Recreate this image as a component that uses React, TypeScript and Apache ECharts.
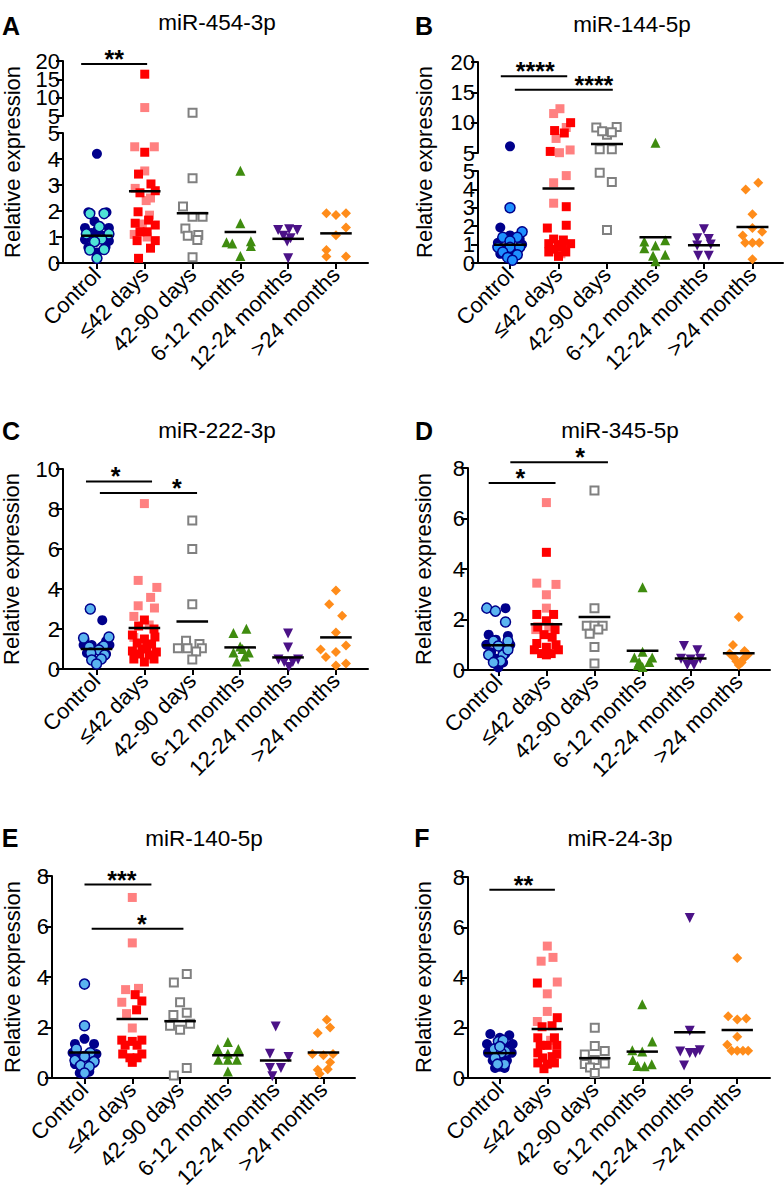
import React, { useEffect, useRef } from 'react';
import * as echarts from 'echarts';

const categories = ['Control', '≤42 days', '42-90 days', '6-12 months', '12-24 months', '>24 months'];

// Points: [jitter offset within category, relative expression]
// Panel A — miR-454-3p
const A_controlDark = [[0, 4.2], [-0.18, 1.95], [0.2, 1.95], [-0.05, 1.6], [-0.25, 1.35], [0.25, 1.35], [-0.12, 1.15], [0.12, 1.05], [-0.25, 0.9], [0.25, 0.85], [-0.18, 0.6], [0.18, 0.62], [0, 0.4], [0, 1.25]];
const A_controlLight = [[-0.15, 1.9], [0.15, 1.9], [-0.22, 1.12], [0.25, 1.12], [0.1, 0.92], [-0.05, 0.82], [-0.15, 0.5], [0.15, 0.52], [0, 0.18], [0.05, 1.4]];
const A_pink = [[0, 7.3], [-0.21, 4.47], [0.2, 4.47], [0, 3.54], [-0.2, 2.87], [0.03, 2.4], [0.12, 2.5], [0.1, 1.84], [-0.05, 1.5], [-0.22, 1.1], [0.05, 1.0]];
const A_red = [[0, 16.4], [0, 4.26], [-0.13, 3.42], [0.13, 3.04], [-0.1, 2.7], [0.22, 2.78], [-0.14, 1.97], [0.08, 1.65], [-0.2, 1.53], [0.22, 1.46], [-0.1, 1.2], [0.05, 1.2], [-0.16, 0.86], [0.22, 0.86], [0.12, 0.57], [-0.13, 0.18]];
const A_gray = [[0, 5.9], [0, 3.26], [-0.2, 2.17], [0, 1.78], [0.21, 1.78], [-0.15, 1.33], [-0.1, 1.05], [0.12, 1.08], [0.1, 0.88], [0, 0.22]];
const A_green = [[0, 3.55], [0, 1.53], [-0.29, 0.8], [-0.17, 0.75], [0.22, 0.84], [0.22, 0.65], [0, 0.27]];
const A_purple = [[-0.21, 1.27], [0.02, 1.3], [0.19, 1.27], [-0.1, 1.05], [0.05, 0.95], [-0.02, 0.83], [0, 0.18]];
const A_orange = [[-0.2, 1.91], [0, 1.85], [0.21, 1.91], [0.21, 1.37], [0, 1.07], [-0.2, 0.5], [-0.2, 0.25], [0.21, 0.25]];
const A_means = [1.05, 2.76, 1.91, 1.19, 0.93, 1.14];
const A_sig = [{ from: -0.33, to: 1.05, y: 19.2, at: 0.36, stars: '**' }];

// Panel B — miR-144-5p
const B_controlDark = [[0, 6.1], [-0.2, 1.93], [0, 1.5], [-0.25, 1.1], [0.25, 1.0], [-0.1, 0.8], [0.1, 0.6], [0, 0.3], [0.2, 1.3], [-0.2, 0.5]];
const B_controlLight = [[0, 3.0], [0.25, 1.7], [-0.15, 1.4], [0.15, 1.4], [0, 1.2], [-0.25, 0.85], [0, 0.85], [0.2, 0.85], [-0.15, 0.6], [0.15, 0.45], [-0.05, 0.3], [0.05, 0.15]];
const B_pink = [[0.03, 12.3], [-0.1, 11.5], [0.16, 9.2], [-0.05, 7.4], [0.02, 5.05], [0.24, 5.5], [0.16, 4.75], [-0.1, 4.36], [-0.1, 3.25], [0.05, 0.5]];
const B_red = [[0.25, 10.0], [-0.08, 8.7], [0.12, 8.3], [-0.17, 5.26], [0.16, 3.06], [0.16, 2.05], [-0.23, 1.9], [-0.1, 1.3], [0.1, 1.25], [-0.2, 1.05], [0, 1.0], [0.25, 1.05], [-0.1, 0.75], [0.08, 0.85], [0.15, 0.6], [-0.2, 0.6], [0, 0.36]];
const B_gray = [[-0.22, 9.2], [0.2, 9.3], [0, 8.0], [0.1, 8.4], [-0.1, 8.6], [-0.15, 5.6], [0.1, 5.6], [-0.15, 4.9], [0.1, 4.4], [0, 1.8]];
const B_green = [[0, 6.7], [-0.23, 1.17], [0, 0.95], [0.2, 1.23], [-0.23, 0.8], [-0.05, 0.4], [0.2, 0.45], [0, 0.1]];
const B_purple = [[0, 1.84], [-0.14, 1.35], [0.1, 1.3], [-0.14, 0.95], [0.14, 1.0], [-0.12, 0.4], [0.1, 0.4]];
const B_orange = [[-0.14, 4.0], [0.12, 4.36], [0, 2.65], [0, 1.9], [0.2, 1.7], [-0.2, 1.5], [-0.15, 1.1], [0, 1.1], [0.14, 1.1], [0, 0.2]];
const B_means = [0.99, 4.05, 6.5, 1.4, 0.97, 1.96];
const B_sig = [
  { from: -0.19, to: 1.18, y: 17.66, at: 0.52, stars: '****' },
  { from: 0.1, to: 2.12, y: 15.44, at: 1.73, stars: '****' },
];

// Panel C — miR-222-3p
const C_controlDark = [[0.12, 2.44], [-0.25, 1.45], [0.2, 1.4], [-0.1, 1.2], [0.1, 1.1], [0, 0.95], [-0.2, 0.8], [0.2, 0.75], [-0.1, 0.55], [0.1, 0.5], [0, 0.35], [-0.27, 1.2], [0.27, 1.2]];
const C_controlLight = [[-0.13, 3.0], [-0.27, 1.55], [0.26, 1.6], [-0.15, 1.1], [0.15, 1.15], [0.05, 0.95], [-0.12, 0.8], [0.17, 0.7], [-0.1, 0.45], [0.1, 0.5], [0, 0.25]];
const C_pink = [[0, 8.27], [-0.13, 4.43], [0.26, 4.08], [0.13, 3.58], [-0.13, 3.16], [0.21, 3.05], [-0.22, 2.63], [-0.22, 1.58], [0.1, 2.2]];
const C_red = [[0, 2.45], [-0.12, 2.15], [0.2, 2.0], [-0.25, 1.7], [0.22, 1.6], [0, 1.5], [-0.15, 1.3], [0.15, 1.25], [-0.25, 0.9], [0.25, 0.85], [-0.1, 0.75], [0.1, 0.7], [-0.22, 0.5], [0.2, 0.5], [0, 0.35], [-0.05, 1.0], [0.05, 1.1]];
const C_gray = [[0, 7.43], [0, 6.0], [0, 3.24], [-0.13, 1.41], [0.15, 1.25], [-0.3, 1.04], [-0.1, 1.04], [0.2, 1.04], [0.08, 0.88], [0, 0.48]];
const C_green = [[-0.14, 1.8], [0.13, 2.01], [0, 1.13], [-0.14, 0.83], [0.18, 0.83], [0.05, 1.0], [-0.07, 0.38], [0.1, 0.62]];
const C_purple = [[0, 1.77], [0, 1.08], [-0.2, 0.48], [-0.08, 0.35], [0.1, 0.35], [0.21, 0.48], [0.02, 0.1]];
const C_orange = [[0, 3.93], [-0.14, 3.24], [0.13, 2.66], [0, 1.83], [0.21, 1.17], [-0.32, 0.97], [0, 0.85], [-0.21, 0.6], [0.21, 0.27], [0, 0.17]];
const C_means = [1.0, 2.05, 2.38, 1.08, 0.58, 1.58];
const C_sig = [
  { from: -0.22, to: 1.16, y: 9.38, at: 0.4, stars: '*' },
  { from: 0.07, to: 2.1, y: 8.8, at: 1.68, stars: '*' },
];

// Panel D — miR-345-5p
const D_controlDark = [[0.15, 2.45], [-0.2, 1.4], [0.2, 1.35], [-0.05, 1.2], [-0.25, 1.0], [0.25, 1.0], [0.05, 0.9], [-0.15, 0.7], [0.15, 0.65], [-0.05, 0.45], [0.1, 0.3], [0, 0.1]];
const D_controlLight = [[-0.24, 2.45], [-0.06, 2.33], [0.15, 1.9], [0.2, 1.15], [-0.1, 1.15], [-0.2, 0.6], [0.1, 0.6], [0.05, 0.35], [-0.1, 0.3], [0, 0.95], [0.2, 0.8]];
const D_pink = [[0, 6.63], [-0.2, 3.44], [0.2, 3.39], [0, 2.98], [0, 2.45], [-0.22, 1.6], [0.05, 1.7]];
const D_red = [[0, 4.66], [-0.2, 2.2], [0.15, 2.2], [0, 1.95], [-0.18, 1.7], [0.18, 1.6], [-0.05, 1.4], [0.12, 1.3], [-0.2, 1.05], [0.2, 1.0], [-0.25, 0.8], [0.25, 0.8], [-0.1, 0.65], [0.1, 0.65], [0, 0.6], [0, 0.9]];
const D_gray = [[0, 7.11], [0, 2.45], [-0.16, 1.75], [0, 1.75], [0.17, 1.75], [-0.1, 1.44], [0.08, 1.6], [0, 0.91], [0, 0.26]];
const D_green = [[0, 3.28], [0, 0.72], [-0.17, 0.5], [0.2, 0.5], [-0.07, 0.32], [0.14, 0.32], [0, 0.12], [-0.1, 0.2]];
const D_purple = [[-0.14, 0.95], [0.14, 0.78], [-0.2, 0.45], [0, 0.42], [0.2, 0.45], [-0.07, 0.2], [0.07, 0.2]];
const D_orange = [[0, 2.1], [-0.12, 0.99], [0.12, 0.75], [-0.19, 0.65], [0.19, 0.6], [-0.1, 0.5], [0.1, 0.45], [-0.05, 0.35], [0.06, 0.3], [0, 0.2]];
const D_means = [0.98, 1.81, 2.1, 0.76, 0.46, 0.66];
const D_sig = [
  { from: 0.25, to: 2.28, y: 8.23, at: 1.7, stars: '*' },
  { from: -0.2, to: 1.19, y: 7.41, at: 0.46, stars: '*' },
];

// Panel E — miR-140-5p
const E_controlDark = [[0, 1.55], [-0.2, 1.35], [0.2, 1.35], [-0.25, 1.0], [0.25, 0.95], [-0.1, 0.85], [0.1, 0.8], [-0.2, 0.55], [0.2, 0.6], [0, 0.35], [-0.1, 0.2], [0.1, 0.25]];
const E_controlLight = [[0, 3.72], [0, 2.07], [-0.17, 1.15], [0.12, 1.0], [0, 0.85], [-0.2, 0.7], [0.2, 0.65], [-0.08, 0.5], [0.1, 0.45], [0, 0.2]];
const E_pink = [[0, 7.15], [0, 5.35], [-0.14, 3.5], [0.13, 3.55], [-0.22, 3.0], [-0.12, 2.55], [0, 1.98]];
const E_red = [[0.06, 3.3], [0.2, 3.05], [0.09, 2.7], [-0.22, 1.5], [0.2, 1.5], [0, 1.45], [-0.15, 1.3], [0.1, 1.3], [-0.2, 0.95], [0.2, 0.95], [-0.05, 0.8], [0.1, 0.8], [0, 0.62]];
const E_gray = [[0.14, 4.12], [-0.13, 3.78], [0, 3.0], [-0.14, 2.5], [0.14, 2.58], [-0.21, 2.07], [0.21, 2.15], [0, 1.91], [0.14, 0.4], [-0.13, 0.1]];
const E_green = [[0, 1.43], [-0.21, 1.15], [0.22, 1.15], [0, 0.96], [-0.2, 0.72], [0, 0.72], [0.19, 0.72], [0, 0.26]];
const E_purple = [[0, 2.04], [-0.12, 0.96], [0.27, 0.83], [-0.12, 0.4], [0.11, 0.4], [-0.07, 0.07]];
const E_orange = [[0.07, 2.31], [0.14, 2.0], [-0.12, 1.78], [-0.23, 0.95], [0, 0.9], [0.2, 0.95], [0.14, 0.62], [-0.12, 0.33], [0.09, 0.35], [-0.08, 0.17]];
const E_means = [1.01, 2.34, 2.25, 0.9, 0.69, 1.01];
const E_sig = [
  { from: 0, to: 1.4, y: 7.66, at: 0.78, stars: '***' },
  { from: 0.15, to: 2.07, y: 5.91, at: 1.2, stars: '*' },
];

// Panel F — miR-24-3p
const F_controlDark = [[-0.2, 1.75], [0.2, 1.7], [0, 1.6], [-0.27, 1.35], [0.27, 1.35], [-0.1, 1.2], [0.1, 1.25], [-0.25, 1.0], [0.25, 1.0], [-0.15, 0.7], [0.15, 0.7], [0, 0.45], [-0.1, 0.4], [0.1, 0.4], [0, 0.8]];
const F_controlLight = [[-0.03, 1.45], [0.07, 1.5], [-0.12, 1.15], [0.12, 1.05], [0.03, 1.0], [-0.1, 0.8], [0.1, 0.55], [-0.05, 0.55], [0, 1.25]];
const F_pink = [[0, 5.25], [-0.13, 4.65], [0.12, 4.8], [0.21, 3.82], [0, 3.35], [0, 2.65], [-0.21, 2.25], [0.07, 1.5]];
const F_red = [[-0.21, 3.78], [0.21, 2.4], [-0.11, 2.04], [0.1, 2.08], [-0.2, 1.6], [0.15, 1.6], [-0.15, 1.3], [0, 1.3], [0.2, 1.3], [-0.2, 1.0], [0.2, 0.95], [-0.1, 0.8], [0.1, 0.85], [-0.2, 0.6], [0.15, 0.6], [0, 0.55], [-0.07, 0.37]];
const F_gray = [[0, 2.0], [0, 1.27], [0.21, 1.07], [-0.21, 0.94], [0, 0.72], [-0.21, 0.56], [0.21, 0.58], [-0.1, 0.42], [0, 0.2]];
const F_green = [[0, 2.94], [0.21, 1.45], [-0.21, 1.1], [0, 1.05], [-0.2, 0.72], [-0.1, 0.48], [0.05, 0.47], [0.2, 0.55]];
const F_purple = [[0, 6.37], [0, 1.88], [-0.2, 1.05], [0, 1.0], [0.12, 1.0], [0.21, 1.1], [-0.12, 0.5]];
const F_orange = [[0, 4.78], [-0.19, 2.46], [0, 2.33], [0.19, 2.37], [0, 1.64], [-0.21, 1.32], [-0.12, 1.08], [0, 1.08], [0.12, 1.08], [0.23, 1.08]];
const F_means = [0.99, 1.95, 0.79, 1.05, 1.82, 1.91];
const F_sig = [{ from: -0.22, to: 1.16, y: 7.49, at: 0.5, stars: '**' }];

const FONT = '"Liberation Sans", Arial, Helvetica, sans-serif';
const NAVY = '#00008b';

const groupStyles = [
  { cat: 0, symbol: 'circle', size: 10, fill: NAVY, stroke: NAVY, lw: 0 },
  { cat: 0, symbol: 'circle', size: 10, fill: 'LIGHT', stroke: NAVY, lw: 1.5 },
  { cat: 1, symbol: 'rect', size: 9, fill: '#ff8080', stroke: '#ff8080', lw: 0 },
  { cat: 1, symbol: 'rect', size: 9, fill: '#ff0000', stroke: '#ff0000', lw: 0 },
  { cat: 2, symbol: 'rect', size: 8, fill: '#ffffff', stroke: '#808080', lw: 2 },
  { cat: 3, symbol: 'triangle', size: 10, fill: '#3f8c0f', stroke: '#3f8c0f', lw: 0 },
  { cat: 4, symbol: 'triangle', size: 10, rotate: 180, fill: '#4b1287', stroke: '#4b1287', lw: 0 },
  { cat: 5, symbol: 'diamond', size: 10, fill: '#ff8c1a', stroke: '#ff8c1a', lw: 0 },
];

const panels = [
  {
    letter: 'A', title: 'miR-454-3p', light: '#4fe3d6',
    groups: [A_controlDark, A_controlLight, A_pink, A_red, A_gray, A_green, A_purple, A_orange],
    means: A_means, sig: A_sig,
    left: 63, width: 305, xMin: -0.71, xMax: 5.67,
    lower: { top: 133, height: 130, min: 0, max: 5, interval: 1 },
    upper: { top: 61, height: 55, min: 5, max: 20, interval: 5 },
    titlePos: [217, 22], letterPos: [11, 26], yNamePos: [12, 162],
  },
  {
    letter: 'B', title: 'miR-144-5p', light: '#1e90ff',
    groups: [B_controlDark, B_controlLight, B_pink, B_red, B_gray, B_green, B_purple, B_orange],
    means: B_means, sig: B_sig,
    left: 478, width: 305, xMin: -0.66, xMax: 5.63,
    lower: { top: 171, height: 92, min: 0, max: 5, interval: 1 },
    upper: { top: 62, height: 91, min: 5, max: 20, interval: 5 },
    titlePos: [632, 24], letterPos: [424, 26], yNamePos: [424, 162],
  },
  {
    letter: 'C', title: 'miR-222-3p', light: '#5ab4f0',
    groups: [C_controlDark, C_controlLight, C_pink, C_red, C_gray, C_green, C_purple, C_orange],
    means: C_means, sig: C_sig,
    left: 63, width: 305, xMin: -0.7, xMax: 5.67,
    lower: { top: 469, height: 200, min: 0, max: 10, interval: 2 },
    titlePos: [217, 430], letterPos: [11, 431], yNamePos: [11, 569],
  },
  {
    letter: 'D', title: 'miR-345-5p', light: '#5ab4f0',
    groups: [D_controlDark, D_controlLight, D_pink, D_red, D_gray, D_green, D_purple, D_orange],
    means: D_means, sig: D_sig,
    left: 468, width: 302, xMin: -0.63, xMax: 5.65,
    lower: { top: 468, height: 202, min: 0, max: 8, interval: 2 },
    titlePos: [620, 430], letterPos: [424, 431], yNamePos: [423, 569],
  },
  {
    letter: 'E', title: 'miR-140-5p', light: '#5ab4f0',
    groups: [E_controlDark, E_controlLight, E_pink, E_red, E_gray, E_green, E_purple, E_orange],
    means: E_means, sig: E_sig,
    left: 52, width: 303, xMin: -0.68, xMax: 5.66,
    lower: { top: 876, height: 202, min: 0, max: 8, interval: 2 },
    titlePos: [204, 838], letterPos: [10, 838], yNamePos: [12, 977],
  },
  {
    letter: 'F', title: 'miR-24-3p', light: '#5ab4f0',
    groups: [F_controlDark, F_controlLight, F_pink, F_red, F_gray, F_green, F_purple, F_orange],
    means: F_means, sig: F_sig,
    left: 468, width: 302, xMin: -0.67, xMax: 5.69,
    lower: { top: 877, height: 201, min: 0, max: 8, interval: 2 },
    titlePos: [620, 838], letterPos: [422, 838], yNamePos: [423, 977],
  },
];

const yLabelStyle = { fontSize: 22, fontFamily: FONT, color: '#000', margin: 3 };

function buildOption() {
  const grid: any[] = [];
  const xAxis: any[] = [];
  const yAxis: any[] = [];
  const series: any[] = [];
  const graphic: any[] = [];
  const catTicks = categories.map((_, i) => i);

  panels.forEach((p: any) => {
    graphic.push({
      type: 'text', x: p.titlePos[0], y: p.titlePos[1], silent: true,
      style: { text: p.title, font: `22.5px ${FONT}`, fill: '#000', align: 'center', verticalAlign: 'middle' },
    });
    graphic.push({
      type: 'text', x: p.letterPos[0], y: p.letterPos[1], silent: true,
      style: { text: p.letter, font: `bold 25px ${FONT}`, fill: '#000', align: 'center', verticalAlign: 'middle' },
    });
    graphic.push({
      type: 'text', x: p.yNamePos[0], y: p.yNamePos[1], rotation: Math.PI / 2, silent: true,
      style: { text: 'Relative expression', font: `22px ${FONT}`, fill: '#000', align: 'center', verticalAlign: 'middle' },
    });

    const broken = !!p.upper;
    const segs = broken ? [p.lower, p.upper] : [p.lower];
    segs.forEach((s: any, k: number) => {
      const gi = grid.length;
      grid.push({ left: p.left, top: s.top, width: p.width, height: s.height });
      const xi = xAxis.length;
      xAxis.push({
        gridIndex: gi, type: 'value', min: p.xMin, max: p.xMax, show: k === 0,
        axisLine: { show: true, onZero: false, lineStyle: { color: '#000', width: 2 } },
        axisTick: { show: true, customValues: catTicks, length: 6, lineStyle: { color: '#000', width: 2 } },
        axisLabel: {
          show: true, customValues: catTicks, formatter: (v: number) => categories[Math.round(v)],
          rotate: 45, fontSize: 22, fontFamily: FONT, color: '#000', margin: 8,
        },
        splitLine: { show: false },
      });

      const ticks: number[] = [];
      for (let v = s.min; v <= s.max + 1e-9; v += s.interval) ticks.push(v);
      const yi = yAxis.length;
      yAxis.push({
        gridIndex: gi, type: 'value', position: 'left', min: s.min, max: s.max, interval: s.interval,
        axisLine: { show: true, onZero: false, lineStyle: { color: '#000', width: 2 } },
        axisTick: { show: true, length: 7, customValues: ticks, lineStyle: { color: '#000', width: 2 } },
        axisLabel: broken
          ? { ...yLabelStyle, customValues: ticks.filter((_, i) => i % 2 === 0) }
          : { ...yLabelStyle, showMinLabel: true, showMaxLabel: true },
        splitLine: { show: false },
      });
      if (broken) {
        // second label layer for the tightly spaced ticks of the broken axis
        yAxis.push({
          gridIndex: gi, type: 'value', position: 'left', offset: 0, min: s.min, max: s.max, interval: s.interval,
          axisLine: { show: false, onZero: false },
          axisTick: { show: false },
          axisLabel: { ...yLabelStyle, customValues: ticks.filter((_, i) => i % 2 === 1) },
          splitLine: { show: false },
        });
      }
      const inSeg = (v: number) => (!broken ? true : k === 0 ? v <= p.lower.max : v > p.lower.max);

      p.groups.forEach((pts: number[][], gIdx: number) => {
        const st: any = groupStyles[gIdx];
        const data = pts.filter((q) => inSeg(q[1])).map((q) => [st.cat + q[0], q[1]]);
        if (!data.length) return;
        series.push({
          type: 'scatter', xAxisIndex: xi, yAxisIndex: yi, data, silent: true,
          symbol: st.symbol, symbolSize: st.size, symbolRotate: st.rotate || 0,
          itemStyle: {
            color: st.fill === 'LIGHT' ? p.light : st.fill,
            borderColor: st.stroke, borderWidth: st.lw, opacity: 1,
          },
          z: 2,
        });
      });

      const meanData = p.means.map((m: number, i: number) => [i, m]).filter((d: number[]) => inSeg(d[1]));
      if (meanData.length) {
        series.push({
          type: 'custom', xAxisIndex: xi, yAxisIndex: yi, data: meanData, silent: true, z: 5,
          renderItem: (params: any, api: any) => {
            const a = api.coord([api.value(0) - 0.33, api.value(1)]);
            const b = api.coord([api.value(0) + 0.33, api.value(1)]);
            return {
              type: 'line', shape: { x1: a[0], y1: a[1], x2: b[0], y2: b[1] },
              style: { stroke: '#000', lineWidth: 2.5 },
            };
          },
        });
      }

      const sigs = p.sig.filter((sg: any) => inSeg(sg.y));
      if (sigs.length) {
        series.push({
          type: 'custom', xAxisIndex: xi, yAxisIndex: yi, silent: true, z: 6, clip: false,
          data: sigs.map((sg: any) => [sg.from, sg.to, sg.y, sg.at]),
          renderItem: (params: any, api: any) => {
            const sg = sigs[params.dataIndex];
            const a = api.coord([api.value(0), api.value(2)]);
            const b = api.coord([api.value(1), api.value(2)]);
            const t = api.coord([api.value(3), api.value(2)]);
            return {
              type: 'group',
              children: [
                { type: 'line', shape: { x1: a[0], y1: a[1], x2: b[0], y2: b[1] }, style: { stroke: '#000', lineWidth: 2 } },
                {
                  type: 'text', x: t[0], y: t[1] - 5,
                  style: { text: sg.stars, font: `bold 25px ${FONT}`, fill: '#000', align: 'center', verticalAlign: 'middle' },
                },
              ],
            };
          },
        });
      }
    });
  });

  return { animation: false, backgroundColor: '#ffffff', grid, xAxis, yAxis, series, graphic };
}

export default function App() {
  const ref = useRef<HTMLDivElement>(null);
  useEffect(() => {
    if (!ref.current) return;
    const chart = echarts.init(ref.current, null, { renderer: 'svg' });
    chart.setOption(buildOption() as any);
    return () => chart.dispose();
  }, []);
  return (
    <div
      ref={ref}
      style={{ position: 'absolute', left: 0, top: 0, width: 784, height: 1192, background: '#fff' }}
    />
  );
}
